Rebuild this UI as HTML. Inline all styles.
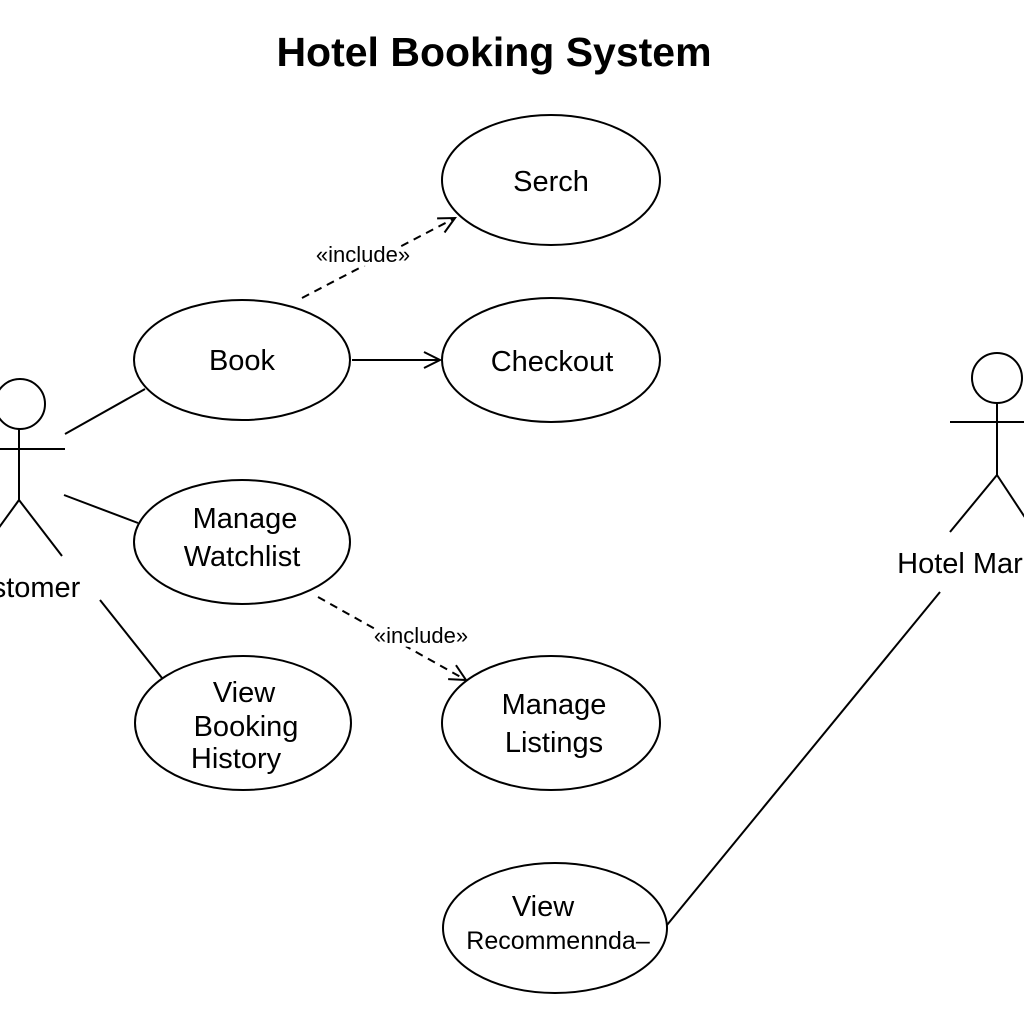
<!DOCTYPE html>
<html><head><meta charset="utf-8"><style>
html,body{margin:0;padding:0;background:#fff;}
svg{display:block;}
text{font-family:"Liberation Sans",Arial,sans-serif;fill:#000;}
.bg{stroke:#fff;stroke-width:8;paint-order:stroke;}
</style></head><body>
<svg width="1024" height="1024" viewBox="0 0 1024 1024" xmlns="http://www.w3.org/2000/svg">
<defs>
<marker id="a" markerWidth="20" markerHeight="20" refX="18" refY="10" orient="auto" markerUnits="userSpaceOnUse">
<path d="M2,2 L18,10 L2,18" fill="none" stroke="#000" stroke-width="2"/>
</marker>
</defs>
<text x="494" y="66" font-size="41" font-weight="bold" text-anchor="middle">Hotel Booking System</text>
<g fill="none" stroke="#000" stroke-width="2">
<ellipse cx="551" cy="180" rx="109" ry="65"/>
<ellipse cx="242" cy="360" rx="108" ry="60"/>
<ellipse cx="551" cy="360" rx="109" ry="62"/>
<ellipse cx="242" cy="542" rx="108" ry="62"/>
<ellipse cx="243" cy="723" rx="108" ry="67"/>
<ellipse cx="551" cy="723" rx="109" ry="67"/>
<ellipse cx="555" cy="928" rx="112" ry="65"/>
<circle cx="20" cy="404" r="25"/>
<line x1="19" y1="429" x2="19" y2="500"/>
<line x1="0" y1="449" x2="65" y2="449"/>
<line x1="19" y1="500" x2="62" y2="556"/>
<line x1="19" y1="500" x2="-10" y2="540"/>
<circle cx="997" cy="378" r="25"/>
<line x1="997" y1="403" x2="997" y2="475"/>
<line x1="950" y1="422" x2="1024" y2="422"/>
<line x1="997" y1="475" x2="950" y2="532"/>
<line x1="997" y1="475" x2="1030" y2="525"/>
<line x1="65" y1="434" x2="145" y2="389"/>
<line x1="64" y1="495" x2="138" y2="523"/>
<line x1="100" y1="600" x2="162" y2="678"/>
<line x1="940" y1="592" x2="667" y2="925"/>
<line x1="352" y1="360" x2="440" y2="360" marker-end="url(#a)"/>
<line x1="302" y1="298" x2="455" y2="218" stroke-dasharray="8,6" marker-end="url(#a)"/>
<line x1="318" y1="597" x2="466" y2="680" stroke-dasharray="8,6" marker-end="url(#a)"/>
</g>
<g font-size="29" text-anchor="middle">
<text x="551" y="191">Serch</text>
<text x="242" y="370">Book</text>
<text x="552" y="371">Checkout</text>
<text x="245" y="528">Manage</text>
<text x="242" y="566">Watchlist</text>
<text x="244" y="702">View</text>
<text x="246" y="736">Booking</text>
<text x="236" y="768">History</text>
<text x="554" y="714">Manage</text>
<text x="554" y="752">Listings</text>
<text x="543" y="916">View</text>
<text x="558" y="949" font-size="25">Recommennda–</text>
<text x="36" y="597">stomer</text>
<text x="960" y="573">Hotel Mar</text>
</g>
<text class="bg" x="363" y="262" font-size="22" text-anchor="middle">«include»</text>
<text class="bg" x="421" y="643" font-size="22" text-anchor="middle">«include»</text>
</svg>
</body></html>
